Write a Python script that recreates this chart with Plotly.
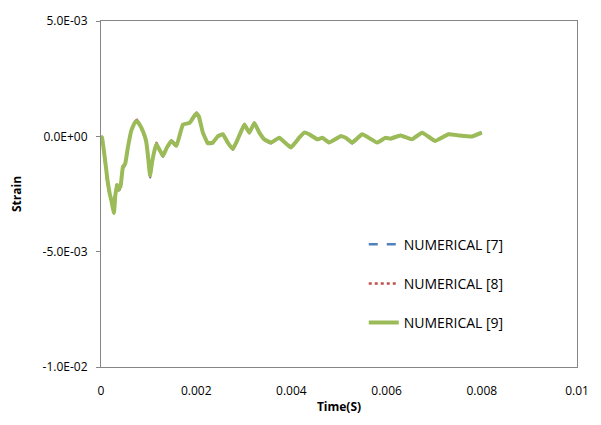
import plotly.graph_objects as go

# Time (s)
time = [0, 0.0000209, 0.00009, 0.000132, 0.000182, 0.000215, 0.000272, 0.000299, 0.000335,
        0.00037, 0.000412, 0.00046, 0.000508, 0.000565, 0.000634, 0.000705, 0.000759, 0.00081,
        0.000879, 0.000948, 0.000983, 0.001031, 0.001073, 0.001123, 0.001165, 0.001234, 0.001303,
        0.001381, 0.001479, 0.001584, 0.001722, 0.001862, 0.002002, 0.002056, 0.00214, 0.002245,
        0.002349, 0.002454, 0.002559, 0.002663, 0.002768, 0.002872, 0.003013, 0.003117, 0.003222,
        0.003326, 0.003431, 0.003571, 0.003745, 0.00399, 0.004163, 0.004268, 0.004372, 0.004546,
        0.004651, 0.004791, 0.005036, 0.00514, 0.005278, 0.005487, 0.005801, 0.005977, 0.006082,
        0.006291, 0.006533, 0.006743, 0.007023, 0.007301, 0.00751, 0.007789, 0.007998]

# Strain, in units of 1e-3
strain_9 = [0, -0.05, -1.1, -1.83, -2.47, -2.75, -3.32, -2.6, -2.1,
            -2.3, -2.15, -1.33, -1.19, -0.48, 0.23, 0.58, 0.65, 0.51,
            0.23, -0.2, -0.77, -1.69, -1.12, -0.62, -0.34, -0.6, -0.84,
            -0.5, -0.2, -0.41, 0.51, 0.58, 1.0, 0.86, 0.16, -0.3,
            -0.27, 0.0, 0.09, -0.27, -0.55, -0.13, 0.51, 0.16, 0.58,
            0.16, -0.13, -0.27, -0.06, -0.48, -0.06, 0.16, 0.09, -0.13,
            -0.06, -0.27, 0.0, -0.06, -0.27, 0.09, -0.27, -0.06, -0.1,
            0.04, -0.13, 0.16, -0.2, 0.09, 0.04, -0.01, 0.16]

strain_7 = [0, -0.05, -1.15, -1.9, -2.5, -2.7, -3.3, -2.55, -2.15,
            -2.35, -2.1, -1.38, -1.25, -0.5, 0.25, 0.6, 0.7, 0.53,
            0.25, -0.22, -0.8, -1.78, -1.1, -0.6, -0.3, -0.62, -0.88,
            -0.5, -0.18, -0.44, 0.5, 0.6, 1.03, 0.88, 0.15, -0.34,
            -0.3, 0.02, 0.11, -0.3, -0.58, -0.15, 0.55, 0.14, 0.6,
            0.14, -0.15, -0.3, -0.05, -0.5, -0.05, 0.2, 0.1, -0.15,
            -0.05, -0.3, 0.02, -0.08, -0.3, 0.1, -0.28, -0.05, -0.12,
            0.06, -0.15, 0.17, -0.22, 0.1, 0.05, -0.02, 0.17]

strain_8 = [0, -0.05, -1.2, -1.95, -2.45, -2.8, -3.28, -2.5, -2.05,
            -2.38, -2.18, -1.3, -1.22, -0.45, 0.22, 0.62, 0.72, 0.5,
            0.2, -0.25, -0.75, -1.75, -1.15, -0.65, -0.28, -0.64, -0.86,
            -0.48, -0.22, -0.45, 0.53, 0.57, 1.05, 0.85, 0.18, -0.36,
            -0.28, 0.01, 0.1, -0.29, -0.57, -0.12, 0.53, 0.17, 0.59,
            0.15, -0.14, -0.29, -0.07, -0.49, -0.07, 0.17, 0.08, -0.14,
            -0.07, -0.28, 0.01, -0.07, -0.29, 0.1, -0.28, -0.07, -0.11,
            0.05, -0.14, 0.17, -0.21, 0.1, 0.05, -0.02, 0.16]

names = ["NUMERICAL [7]", "NUMERICAL [8]", "NUMERICAL [9]"]

y_tickvals = [0.005, 0.0, -0.005, -0.01]
y_ticktext = ["5.0E-03", "0.0E+00", "-5.0E-03", "-1.0E-02"]
x_tickvals = [0, 0.002, 0.004, 0.006, 0.008, 0.01]
x_ticktext = ["0", "0.002", "0.004", "0.006", "0.008", "0.01"]

FONT = "Open Sans"

def scale(v):
    return [s * 1e-3 for s in v]

fig = go.Figure()
fig.add_trace(go.Scatter(x=time, y=scale(strain_7), mode="lines", name=names[0],
                         line=dict(color="#4F81BD", width=2.5, dash="dash", shape="spline", smoothing=0.3),
                         legendgroup="a"))
fig.add_trace(go.Scatter(x=time, y=scale(strain_8), mode="lines", name=names[1],
                         line=dict(color="#C0504D", width=2.5, dash="dot", shape="spline", smoothing=0.3),
                         legendgroup="b"))
fig.add_trace(go.Scatter(x=time, y=scale(strain_9), mode="lines", name=names[2],
                         line=dict(color="#9BBB59", width=4, shape="spline", smoothing=0.3),
                         legendgroup="c"))

fig.update_layout(
    width=601, height=425,
    margin=dict(l=101, r=22, t=16, b=58),
    paper_bgcolor="white", plot_bgcolor="white",
    font=dict(family=FONT, size=12, color="#000000"),
    showlegend=True,
    legend=dict(x=0.552, y=0.40, xanchor="left", yanchor="top",
                font=dict(family=FONT, size=14, color="#000000"),
                tracegroupgap=18, bgcolor="rgba(0,0,0,0)"),
    xaxis=dict(range=[0, 0.01], tickvals=x_tickvals, ticktext=x_ticktext,
               showgrid=False, zeroline=False, showline=True, mirror=True,
               linecolor="#868686", linewidth=1, ticks="", ticklabelstandoff=13,
               title=dict(text="<b>Time(S)</b>", font=dict(family=FONT, size=12), standoff=4)),
    yaxis=dict(range=[-0.01, 0.005], tickvals=y_tickvals, ticktext=y_ticktext,
               showgrid=False, zeroline=False, showline=True, mirror=True,
               linecolor="#868686", linewidth=1, ticks="outside", ticklen=4,
               tickcolor="#868686", ticklabelstandoff=6,
               title=dict(text="<b>Strain</b>", font=dict(family=FONT, size=12), standoff=18)),
)

fig.write_html("out.html")
